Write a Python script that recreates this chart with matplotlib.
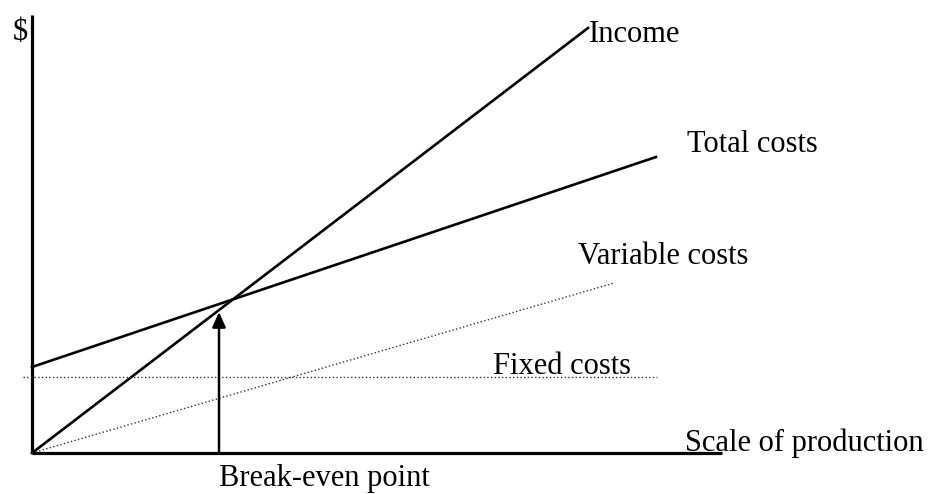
import matplotlib
matplotlib.use('Agg')
from matplotlib import pyplot as plt

# values (x = scale of production, y = $), arbitrary units
income_x = [0, 556]
income_y = [0, 425]
total_x = [0, 624]
total_y = [86, 296]
variable_x = [0, 582]
variable_y = [0, 170]
fixed_x = [-9, 625]
fixed_y = [76, 76]
break_even_x = 187
break_even_y = 141

labels = ['Income', 'Total costs', 'Variable costs', 'Fixed costs', 'Scale of production']
label_pos = [(557, 418), (655, 308), (546, 196), (461, 86), (653, 10)]

plt.rcParams['font.family'] = ['Liberation Serif', 'DejaVu Serif']

fig = plt.figure(figsize=(9.32, 4.94), dpi=100)
ax = fig.add_axes([32 / 932, 41 / 494, 900 / 932, 453 / 494])
ax.set_xlim(0, 900)
ax.set_ylim(0, 453)
ax.axis('off')

# axes drawn by hand
ax.plot([0, 0], [0, 438], color='black', lw=2.3, clip_on=False, solid_capstyle='butt')
ax.plot([0, 690], [0, 0], color='black', lw=2.3, clip_on=False, solid_capstyle='butt')

ax.plot(income_x, income_y, color='black', lw=1.9, clip_on=False)
ax.plot(total_x, total_y, color='black', lw=1.9, clip_on=False)
ax.plot(variable_x, variable_y, color='#333333', lw=1.0, ls=':', clip_on=False)
ax.plot(fixed_x, fixed_y, color='#333333', lw=1.0, ls=':', clip_on=False)

ax.annotate('', xy=(break_even_x, break_even_y), xytext=(break_even_x, 0),
            arrowprops=dict(arrowstyle='-|>,head_length=0.9,head_width=0.4',
                            lw=1.8, color='black', shrinkA=0, shrinkB=0),
            annotation_clip=False)

fs = 22
for text, (x, y) in zip(labels, label_pos):
    ax.text(x, y, text, fontsize=fs, ha='left', va='center', clip_on=False)
ax.text(-12, 420, '$', fontsize=fs, ha='center', va='center', clip_on=False)
ax.text(292, -25, 'Break-even point', fontsize=fs, ha='center', va='center', clip_on=False)

plt.savefig('out.png', dpi=100)
